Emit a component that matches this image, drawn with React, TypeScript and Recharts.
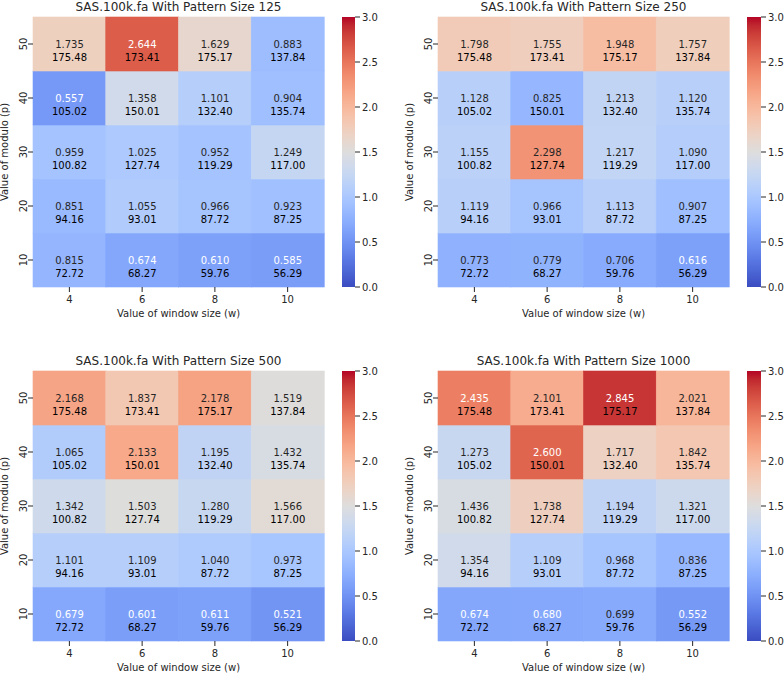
import { BarChart, Bar, XAxis, YAxis } from "recharts";

const windowSizes = ["4", "6", "8", "10"];
const moduloValues = ["10", "20", "30", "40", "50"];
const patternSizes = [125, 250, 500, 1000];

// rows run bottom to top (p = 10 .. 50), columns are w = 4, 6, 8, 10
const ratio125 = [
  [0.815, 0.674, 0.61, 0.585],
  [0.851, 1.055, 0.966, 0.923],
  [0.959, 1.025, 0.952, 1.249],
  [0.557, 1.358, 1.101, 0.904],
  [1.735, 2.644, 1.629, 0.883],
];
const ratio250 = [
  [0.773, 0.779, 0.706, 0.616],
  [1.119, 0.966, 1.113, 0.907],
  [1.155, 2.298, 1.217, 1.09],
  [1.128, 0.825, 1.213, 1.12],
  [1.798, 1.755, 1.948, 1.757],
];
const ratio500 = [
  [0.679, 0.601, 0.611, 0.521],
  [1.101, 1.109, 1.04, 0.973],
  [1.342, 1.503, 1.28, 1.566],
  [1.065, 2.133, 1.195, 1.432],
  [2.168, 1.837, 2.178, 1.519],
];
const ratio1000 = [
  [0.674, 0.68, 0.699, 0.552],
  [1.354, 1.109, 0.968, 0.836],
  [1.436, 1.738, 1.194, 1.321],
  [1.273, 2.6, 1.717, 1.842],
  [2.435, 2.101, 2.845, 2.021],
];

// second line in every cell, same for all pattern sizes
const avgTimes = [
  [72.72, 68.27, 59.76, 56.29],
  [94.16, 93.01, 87.72, 87.25],
  [100.82, 127.74, 119.29, 117.0],
  [105.02, 150.01, 132.4, 135.74],
  [175.48, 173.41, 175.17, 137.84],
];

const colorbarTicks = [0, 0.5, 1, 1.5, 2, 2.5, 3];
const VMAX = 3;

// matplotlib coolwarm
const COOLWARM: number[][] = [
  [0.0, 0.2298057, 0.298717966, 0.753683153],
  [0.03125, 0.26623388, 0.353094838, 0.801466763],
  [0.0625, 0.30386891, 0.406535296, 0.84495867],
  [0.09375, 0.342804478, 0.458757618, 0.883725899],
  [0.125, 0.38301334, 0.50941904, 0.917387822],
  [0.15625, 0.424369608, 0.558148092, 0.945619588],
  [0.1875, 0.46666708, 0.604562568, 0.968154911],
  [0.21875, 0.509635204, 0.648280772, 0.98478814],
  [0.25, 0.552953156, 0.688929332, 0.995375608],
  [0.28125, 0.596262162, 0.726149107, 0.999836203],
  [0.3125, 0.639176211, 0.759599947, 0.998151185],
  [0.34375, 0.681291281, 0.788964712, 0.990363227],
  [0.375, 0.722193294, 0.813952739, 0.976574709],
  [0.40625, 0.761464949, 0.834302879, 0.956945269],
  [0.4375, 0.798691636, 0.849786142, 0.931688648],
  [0.46875, 0.833466556, 0.860207984, 0.901068838],
  [0.5, 0.865395197, 0.86541021, 0.865395561],
  [0.53125, 0.897787179, 0.848937047, 0.820880546],
  [0.5625, 0.924127593, 0.827384882, 0.774508472],
  [0.59375, 0.944468518, 0.800927443, 0.726736146],
  [0.625, 0.958852946, 0.769767752, 0.678007945],
  [0.65625, 0.96732803, 0.734132809, 0.628751763],
  [0.6875, 0.969954137, 0.694266682, 0.579375448],
  [0.71875, 0.966811177, 0.650421156, 0.530263762],
  [0.75, 0.958003065, 0.602842431, 0.481775914],
  [0.78125, 0.943660866, 0.551750968, 0.434243684],
  [0.8125, 0.923944917, 0.49730856, 0.387970225],
  [0.84375, 0.89904617, 0.439559467, 0.343229596],
  [0.875, 0.869186849, 0.378313092, 0.300267182],
  [0.90625, 0.834620542, 0.312874446, 0.259301199],
  [0.9375, 0.795631745, 0.24128379, 0.220525627],
  [0.96875, 0.752534934, 0.157246067, 0.184115123],
  [1.0, 0.705673158, 0.01555616, 0.150232812],
];

const toCss = (r: number, g: number, b: number) =>
  `rgb(${Math.round(r * 255)},${Math.round(g * 255)},${Math.round(b * 255)})`;

function coolwarm(v: number) {
  const t = Math.max(0, Math.min(1, v / VMAX));
  let i = 0;
  while (i < COOLWARM.length - 2 && COOLWARM[i + 1][0] < t) i++;
  const a = COOLWARM[i];
  const b = COOLWARM[i + 1];
  const f = (t - a[0]) / (b[0] - a[0]);
  const rgb = [1, 2, 3].map((k) => a[k] + (b[k] - a[k]) * f);
  const lin = rgb.map((c) => (c <= 0.03928 ? c / 12.92 : Math.pow((c + 0.055) / 1.055, 2.4)));
  const lum = 0.2126 * lin[0] + 0.7152 * lin[1] + 0.0722 * lin[2];
  return { css: toCss(rgb[0], rgb[1], rgb[2]), lum };
}

const TEXT = "#262626";
const FONT = "'DejaVu Sans', sans-serif";
const PLOT_W = 291;
const PLOT_H = 270;

const panels = [
  { size: patternSizes[0], ratios: ratio125, left: 33, top: 17, cbLeft: 342, cbWidth: 13 },
  { size: patternSizes[1], ratios: ratio250, left: 438, top: 17, cbLeft: 747, cbWidth: 14 },
  { size: patternSizes[2], ratios: ratio500, left: 33, top: 371, cbLeft: 342, cbWidth: 13 },
  { size: patternSizes[3], ratios: ratio1000, left: 438, top: 371, cbLeft: 747, cbWidth: 14 },
];

const YTick = (props: any) => {
  const { x, y, payload } = props;
  return (
    <text
      transform={`translate(${x},${y}) rotate(-90)`}
      textAnchor="middle"
      fontSize={10}
      fill={TEXT}
      fontFamily={FONT}
    >
      {moduloValues[Math.floor(payload.value)]}
    </text>
  );
};

const cellShape = (ratios: number[][], row: number) => (props: any) => {
  const { x, y, width, height, index } = props;
  const v = ratios[row][index];
  const c = coolwarm(v);
  const cx = x + width / 2;
  const cy = y + height / 2;
  return (
    <g>
      <rect x={x} y={y} width={width} height={height} fill={c.css} stroke={c.css} strokeWidth={0.6} />
      <text x={cx} y={cy + 3.7} textAnchor="middle" fontSize={10} fontFamily={FONT} fill={c.lum > 0.408 ? TEXT : "#ffffff"}>
        {v.toFixed(3)}
      </text>
      <text x={cx} y={cy + 17} textAnchor="middle" fontSize={10} fontFamily={FONT} fill="#000">
        {avgTimes[row][index].toFixed(2)}
      </text>
    </g>
  );
};

const Heatmap = ({ ratios, left, top }: { ratios: number[][]; left: number; top: number }) => {
  const YW = 40;
  const MT = 4;
  const MR = 4;
  const XH = 40;
  const data = windowSizes.map((w) => {
    const row: Record<string, string | number> = { w };
    moduloValues.forEach((_, i) => (row[`r${i}`] = 1));
    return row;
  });

  return (
    <div style={{ position: "absolute", left: left - YW, top: top - MT }}>
      <BarChart
        width={YW + PLOT_W + MR}
        height={MT + PLOT_H + XH}
        data={data}
        margin={{ top: MT, right: MR, bottom: 0, left: 0 }}
        barCategoryGap={0}
        barGap={0}
      >
        <XAxis
          dataKey="w"
          height={XH}
          axisLine={false}
          tickSize={5}
          tickMargin={4}
          tickLine={{ stroke: TEXT }}
          tick={{ fill: TEXT, fontSize: 10, fontFamily: FONT }}
          label={(p: any) => (
            <text
              x={p.viewBox.x + p.viewBox.width / 2}
              y={p.viewBox.y + 30}
              textAnchor="middle"
              fontSize={10}
              fill={TEXT}
              fontFamily={FONT}
            >
              Value of window size (w)
            </text>
          )}
        />
        <YAxis
          type="number"
          domain={[0, moduloValues.length]}
          ticks={moduloValues.map((_, i) => i + 0.5)}
          width={YW}
          axisLine={false}
          tickSize={5}
          tickMargin={1}
          tickLine={{ stroke: TEXT }}
          tick={YTick}
          label={(p: any) => (
            <text
              transform={`translate(${p.viewBox.x + p.viewBox.width - 24.7},${p.viewBox.y + p.viewBox.height / 2}) rotate(-90)`}
              textAnchor="middle"
              fontSize={10}
              fill={TEXT}
              fontFamily={FONT}
            >
              Value of modulo (p)
            </text>
          )}
        />
        {moduloValues.map((_, ri) => (
          <Bar
            key={ri}
            dataKey={`r${ri}`}
            stackId="cells"
            isAnimationActive={false}
            shape={cellShape(ratios, ri)}
          />
        ))}
      </BarChart>
    </div>
  );
};

const Colorbar = ({ id, left, top, width }: { id: string; left: number; top: number; width: number }) => {
  const AW = 32;
  const M = 6;
  return (
    <div style={{ position: "absolute", left, top: top - M }}>
      <BarChart
        width={width + AW}
        height={PLOT_H + 2 * M}
        data={[{ name: "scale", vmax: VMAX }]}
        margin={{ top: M, right: 0, bottom: M, left: 0 }}
        barCategoryGap={0}
      >
        <defs>
          <linearGradient id={id} x1="0" y1="1" x2="0" y2="0">
            {COOLWARM.map((s) => (
              <stop key={s[0]} offset={`${s[0] * 100}%`} stopColor={toCss(s[1], s[2], s[3])} />
            ))}
          </linearGradient>
        </defs>
        <XAxis dataKey="name" hide />
        <YAxis
          orientation="right"
          type="number"
          domain={[0, VMAX]}
          ticks={colorbarTicks}
          width={AW}
          axisLine={false}
          tickSize={5}
          tickMargin={2}
          tickLine={{ stroke: TEXT }}
          tick={{ fill: TEXT, fontSize: 10, fontFamily: FONT }}
          tickFormatter={(v: number) => v.toFixed(1)}
        />
        <Bar dataKey="vmax" fill={`url(#${id})`} isAnimationActive={false} />
      </BarChart>
    </div>
  );
};

export default function App() {
  return (
    <div
      style={{
        position: "absolute",
        left: 0,
        top: 0,
        width: 784,
        height: 674,
        background: "#fff",
        overflow: "hidden",
        fontFamily: FONT,
      }}
    >
      {panels.map((p, i) => (
        <Heatmap key={`h${i}`} ratios={p.ratios} left={p.left} top={p.top} />
      ))}
      {panels.map((p, i) => (
        <Colorbar key={`c${i}`} id={`cw${i}`} left={p.cbLeft} top={p.top} width={p.cbWidth} />
      ))}
      <svg width={784} height={674} style={{ position: "absolute", left: 0, top: 0, pointerEvents: "none" }}>
        {panels.map((p, i) => (
          <text
            key={i}
            x={p.left + PLOT_W / 2}
            y={p.top - 6}
            textAnchor="middle"
            fontSize={12}
            fill={TEXT}
            fontFamily={FONT}
          >
            {`SAS.100k.fa With Pattern Size ${p.size}`}
          </text>
        ))}
      </svg>
    </div>
  );
}
